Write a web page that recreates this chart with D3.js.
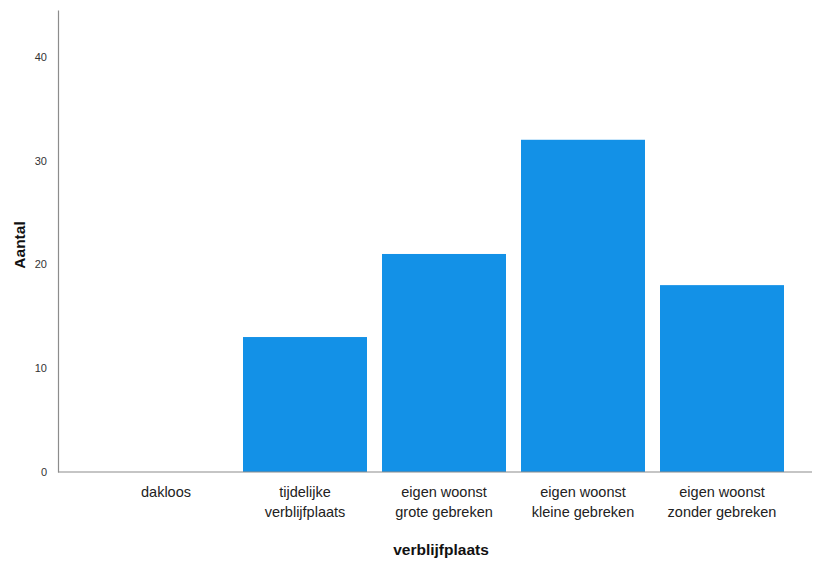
<!DOCTYPE html>
<html><head><meta charset="utf-8">
<script src="https://cdn.jsdelivr.net/npm/d3@7"></script>
<style>body{margin:0;background:#fff}svg{display:block}text{font-family:"Liberation Sans",Arial,sans-serif}</style>
</head><body>
<svg id="c" width="817" height="561"></svg>
<script>
const categories = ["dakloos","tijdelijke\nverblijfplaats","eigen woonst\ngrote gebreken","eigen woonst\nkleine gebreken","eigen woonst\nzonder gebreken"];
const counts = [0,13,21,32,18];
const yTicks = [0,10,20,30,40];
const xTitle = "verblijfplaats";
const yTitle = "Aantal";

const svg = d3.select("#c");
const x = d3.scaleBand().domain(categories).range([96.5,791.5]).paddingInner(0.108).paddingOuter(0.054);
const y = d3.scaleLinear().domain([0,44.5]).range([472,10]);

svg.selectAll("rect.bar").data(counts).enter().append("rect")
  .attr("class","bar")
  .attr("x",(d,i)=>x(categories[i]))
  .attr("width",x.bandwidth())
  .attr("y",d=>y(d))
  .attr("height",d=>y(0)-y(d))
  .attr("fill","#1391e7");

// y axis
const ya = svg.append("g").attr("transform","translate(58,0)")
  .call(d3.axisLeft(y).tickValues(yTicks).tickSize(0).tickPadding(11));
ya.select(".domain").attr("stroke","#8c8c8c").attr("stroke-width",1.2);
ya.selectAll("text").attr("font-size",11).attr("fill","#333");

// x axis
const xa = svg.append("g").attr("transform","translate(0,472)")
  .call(d3.axisBottom(x).tickSize(0).tickFormat(""));
xa.select(".domain").attr("d","M58,0H812").attr("stroke","#8c8c8c").attr("stroke-width",1.2);
xa.selectAll(".tick").each(function(d){
  const t = d3.select(this).append("text").attr("fill","#222").attr("font-size",14.5).attr("text-anchor","middle");
  d.split("\n").forEach((s,i)=>t.append("tspan").attr("x",0).attr("y",25+i*20).text(s));
});

svg.append("text").attr("x",441).attr("y",555).attr("text-anchor","middle")
  .attr("font-size",15.5).attr("font-weight","bold").attr("fill","#111").text(xTitle);
svg.append("text").attr("transform","translate(25,245) rotate(-90)").attr("text-anchor","middle")
  .attr("font-size",15.5).attr("font-weight","bold").attr("fill","#111").text(yTitle);
</script>
</body></html>
